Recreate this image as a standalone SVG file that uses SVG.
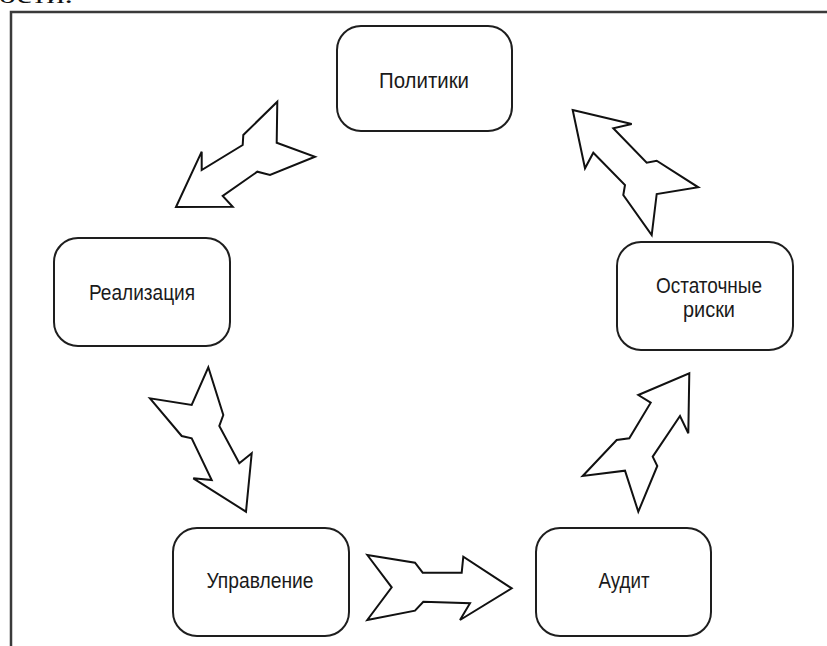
<svg xmlns="http://www.w3.org/2000/svg" width="827" height="646" viewBox="0 0 827 646">
  <style>
    .frame { fill: none; stroke: #3a3a3a; stroke-width: 2.5; }
    .box { fill: #ffffff; stroke: #1e1e1e; stroke-width: 2; }
    .label { font-family: "Liberation Sans", Arial, sans-serif; font-size: 22px; fill: #1a1a1a; text-anchor: middle; }
    .arrow { fill: #ffffff; stroke: #111111; stroke-width: 2; stroke-linejoin: miter; }
    .head { font-family: "Liberation Serif", "Times New Roman", serif; font-size: 24px; fill: #111111; }
  </style>
  <rect width="827" height="646" fill="#ffffff"/>

  <!-- preceding paragraph tail -->
  <text class="head" x="-1" y="3" textLength="74" lengthAdjust="spacingAndGlyphs">ости.</text>

  <!-- figure frame -->
  <path class="frame" d="M11 646 V12 H827"/>

  <!-- cycle arrows -->
  <g id="connectors">
    <!-- Политики to Реализация -->
    <polygon class="arrow" points="176,207 201.7,151.7 201.7,170 242.7,145 243.3,135 277.3,101.7 276.7,142.7 315,156.7 270,175 257.3,171.7 222.7,196 232.7,206.7"/>
    <!-- Реализация to Управление -->
    <polygon class="arrow" points="208.3,367.3 223.3,415 219.3,426 239.3,463.3 251.7,453.3 246,511.7 193.3,478.3 211.7,480 191.7,438.3 181.7,436 150,398.3 191.7,405"/>
    <!-- Управление to Аудит -->
    <polygon class="arrow" points="367.3,555 415,562.7 422.7,572.7 461.7,572.7 463.3,556.7 511.7,588.3 460,620 470,603.3 423.3,601.7 415,610.7 367.3,620 391.7,587.3"/>
    <!-- Аудит to Остаточные риски -->
    <polygon class="arrow" points="689.3,373.3 688.3,433.3 680,416 652.7,456.7 657.3,466 638.3,511.7 625,470.7 582.7,476 616.7,440 629.3,438.3 650.7,402.7 638.3,395"/>
    <!-- Остаточные риски to Политики -->
    <polygon class="arrow" points="572.7,110 631.7,124 613.3,128.3 646.7,162.7 656.7,160.7 698.3,187.3 656.7,194 651.7,235 623.3,195 625,185 593.3,152.7 585,168.3"/>
  </g>

  <g id="node-politiki">
    <rect class="box" x="337" y="26" width="175" height="105" rx="24"/>
    <text class="label" x="424" y="88" textLength="90" lengthAdjust="spacingAndGlyphs">Политики</text>
  </g>

  <g id="node-realizatsiya">
    <rect class="box" x="54" y="238" width="176" height="108" rx="24"/>
    <text class="label" x="142" y="300" textLength="106" lengthAdjust="spacingAndGlyphs">Реализация</text>
  </g>

  <g id="node-ostatochnye-riski">
    <rect class="box" x="617" y="242" width="176" height="108" rx="24"/>
    <text class="label" x="709" y="293" textLength="106" lengthAdjust="spacingAndGlyphs">Остаточные</text>
    <text class="label" x="709" y="317" textLength="52" lengthAdjust="spacingAndGlyphs">риски</text>
  </g>

  <g id="node-upravlenie">
    <rect class="box" x="173" y="528" width="176" height="108" rx="24"/>
    <text class="label" x="260" y="588" textLength="107" lengthAdjust="spacingAndGlyphs">Управление</text>
  </g>

  <g id="node-audit">
    <rect class="box" x="536" y="528" width="175" height="108" rx="24"/>
    <text class="label" x="624" y="588" textLength="51" lengthAdjust="spacingAndGlyphs">Аудит</text>
  </g>
</svg>
